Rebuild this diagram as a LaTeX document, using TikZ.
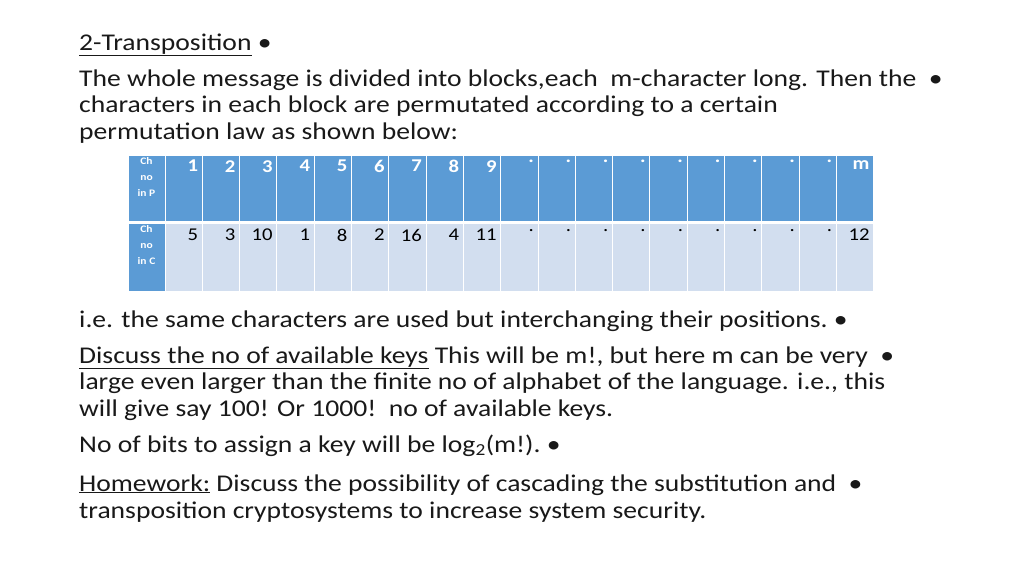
\documentclass[tikz,border=0pt]{standalone}
\usepackage{fontspec}
\setmainfont{Carlito}
\newfontfamily\wide[FakeStretch=1.15]{Carlito}
\begin{document}
\begin{tikzpicture}[x=1pt,y=-1pt,
  txt/.style={anchor=base west,inner sep=0pt,font=\wide\fontsize{24}{26}\selectfont,text=black!90},
  hdrc/.style={fill={rgb,255:red,91;green,155;blue,213},draw=white,line width=1pt},
  bodc/.style={fill={rgb,255:red,210;green,222;blue,239},draw=white,line width=1pt},
  num/.style={anchor=north east,inner sep=0pt,font=\wide\fontsize{18}{20}\selectfont},
  lab/.style={anchor=north,inner sep=0pt,font=\wide\fontsize{10}{16}\selectfont\bfseries,text=white,align=center}]
\useasboundingbox (0,0) rectangle (1024,576);
\fill[white] (0,0) rectangle (1024,576);
\node[txt] (t1) at (79,50) {\underline{2-Transposition}\ •};
\node[txt] (t2) at (79,86) {The whole message is divided into blocks,each\ \ m-character long. Then the\ \ •};
\node[txt] (t3) at (79,112) {characters in each block are permutated according to a certain};
\node[txt] (t4) at (79,139) {permutation law as shown below:};
\node[txt] (t5) at (79,327) {i.e. the same characters are used but interchanging their positions.\ •};
\node[txt] (t6) at (79,363) {\underline{Discuss the no of available keys} This will be m!, but here m can be very\ \ •};
\node[txt] (t7) at (79,389) {large even larger than the finite no of alphabet of the language. i.e., this};
\node[txt] (t8) at (79,416) {will give say 100! Or 1000!\ \ no of available keys.};
\node[txt] (t9) at (79,452) {No of bits to assign a key will be log\textsubscript{2}(m!).\ •};
\node[txt] (t10) at (79,491) {\underline{Homework:} Discuss the possibility of cascading the substitution and\ \ •};
\node[txt] (t11) at (79,518) {transposition cryptosystems to increase system security.};
% table
\fill[white] (127,154) rectangle (875,292);
\draw[hdrc] (128,155) rectangle (165,221);
\draw[hdrc] (128,223) rectangle (165,291);
\node[lab] (lp) at (146.5,157) {Ch\\no\\in P};
\node[lab] (lc) at (146.5,225) {Ch\\no\\in C};
\foreach \i/\a/\b in {1/1/5,2/2/3,3/3/10,4/4/1,5/5/8,6/6/2,7/7/16,8/8/4,9/9/11,10/./.,11/./.,12/./.,13/./.,14/./.,15/./.,16/./.,17/./.,18/./.,19/m/12}{
  \pgfmathsetmacro{\xl}{165+(\i-1)*37.3}
  \pgfmathsetmacro{\xr}{165+\i*37.3}
  \draw[hdrc] (\xl,155) rectangle (\xr,221);
  \draw[bodc] (\xl,223) rectangle (\xr,291);
  \node[num,text=white,font=\wide\fontsize{18}{20}\selectfont\bfseries] (p\i) at (\xr-4,160) {\a};
  \node[num] (c\i) at (\xr-4,229) {\b};
}
\end{tikzpicture}
\end{document}
